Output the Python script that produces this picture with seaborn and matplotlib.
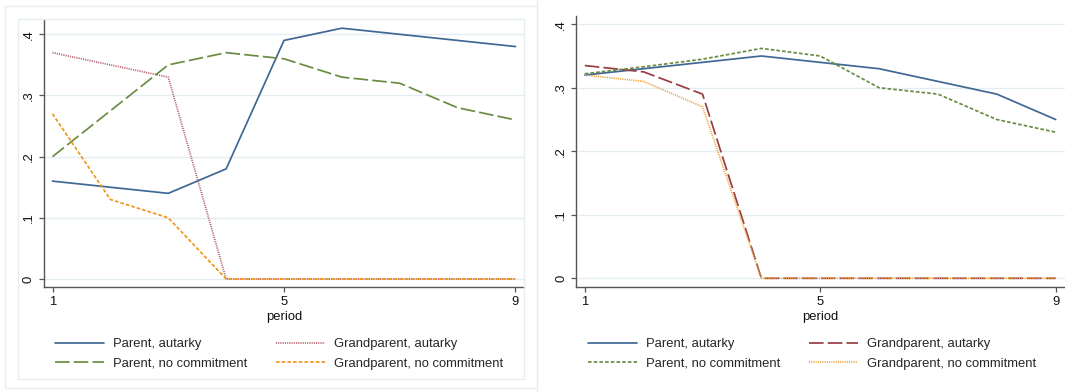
import matplotlib
matplotlib.use("Agg")
import matplotlib.pyplot as plt
import seaborn as sns
import pandas as pd
from matplotlib.lines import Line2D
from matplotlib.patches import Rectangle

# ---------------- data ----------------
periods = [1, 2, 3, 4, 5, 6, 7, 8, 9]
series_names = ["Parent, autarky", "Grandparent, autarky",
                "Parent, no commitment", "Grandparent, no commitment"]

# left panel
left_parent_autarky = [0.16, 0.15, 0.14, 0.18, 0.39, 0.41, 0.40, 0.39, 0.38]
left_grand_autarky = [0.37, 0.35, 0.33, 0.0, 0.0, 0.0, 0.0, 0.0, 0.0]
left_parent_nocommit = [0.20, 0.275, 0.35, 0.37, 0.36, 0.33, 0.32, 0.28, 0.26]
left_grand_nocommit = [0.27, 0.13, 0.10, 0.0, 0.0, 0.0, 0.0, 0.0, 0.0]

# right panel
right_parent_autarky = [0.32, 0.33, 0.34, 0.35, 0.34, 0.33, 0.31, 0.29, 0.25]
right_grand_autarky = [0.335, 0.325, 0.29, 0.0, 0.0, 0.0, 0.0, 0.0, 0.0]
right_parent_nocommit = [0.322, 0.333, 0.345, 0.362, 0.35, 0.30, 0.29, 0.25, 0.23]
right_grand_nocommit = [0.32, 0.31, 0.27, 0.0, 0.0, 0.0, 0.0, 0.0, 0.0]

x_ticks = [1, 5, 9]
y_ticks = [0, 0.1, 0.2, 0.3, 0.4]
y_tick_labels = ["0", ".1", ".2", ".3", ".4"]
x_label = "period"

# ---------------- styling ----------------
sns.set_theme(style="white")
plt.rcParams['font.family'] = ['Liberation Sans', 'DejaVu Sans']
plt.rcParams['lines.scale_dashes'] = False

W, H = 1065, 392
FS = 9.4
fig = plt.figure(figsize=(W / 100, H / 100), dpi=100)
fig.patch.set_facecolor("white")


def px_rect(x0, y0, x1, y1, **kw):
    fig.add_artist(Rectangle((x0 / W, 1 - y1 / H), (x1 - x0) / W, (y1 - y0) / H,
                             transform=fig.transFigure, fill=False, **kw))


def px_axes(x0, y0, x1, y1):
    return fig.add_axes([x0 / W, 1 - y1 / H, (x1 - x0) / W, (y1 - y0) / H])


# frames
frame_col = "#e6eef0"
px_rect(5, 6, 536.5, 388, ec=frame_col, lw=1.0)
px_rect(18, 19, 524, 379, ec=frame_col, lw=1.0)
fig.add_artist(Line2D([536.5 / W, 536.5 / W], [1 - 392 / H, 1.0],
                      transform=fig.transFigure, color=frame_col, lw=1.0))

BLUE = "#3f6894"
MAROON = "#983c45"
MAROON_DOT = "#b5606a"
GREEN = "#6a8c42"
ORANGE = "#f2961a"
ORANGE_DOT = "#f0a43a"

LONG = (10.5, 3.0)
SHORT = (2.6, 1.5)
DOT = (0.8, 0.8)
SOLID = ""

panels = [
    dict(axbox=(44, 20, 524, 287), ylim=(-0.0131, 0.4234), xlim=(0.853, 9.147),
         values=[left_parent_autarky, left_grand_autarky, left_parent_nocommit, left_grand_nocommit],
         colors=[BLUE, MAROON_DOT, GREEN, ORANGE],
         dashes=[SOLID, DOT, LONG, SHORT],
         legend_xy=(54.5, 338)),
    dict(axbox=(576.2, 16, 1064.5, 287.3), ylim=(-0.0142, 0.413), xlim=(0.854, 9.150),
         values=[right_parent_autarky, right_grand_autarky, right_parent_nocommit, right_grand_nocommit],
         colors=[BLUE, MAROON, GREEN, ORANGE_DOT],
         dashes=[SOLID, LONG, SHORT, DOT],
         legend_xy=(587.5, 338)),
]

for p in panels:
    ax = px_axes(*p["axbox"])
    ax.set_facecolor("white")
    rows = []
    for name, vals in zip(series_names, p["values"]):
        for x, v in zip(periods, vals):
            rows.append({"period": x, "value": v, "series": name})
    df = pd.DataFrame(rows)
    pal = dict(zip(series_names, p["colors"]))
    dsh = dict(zip(series_names, p["dashes"]))
    for yt in y_ticks:
        ax.axhline(yt, color="#e4edf1", lw=1.0, zorder=0)
    sns.lineplot(data=df, x="period", y="value", hue="series", style="series",
                 hue_order=series_names, style_order=series_names,
                 palette=pal, dashes=dsh, linewidth=1.25, ax=ax, legend=False,
                 zorder=3)
    ax.set_xlim(*p["xlim"])
    ax.set_ylim(*p["ylim"])
    ax.set_xticks(x_ticks)
    ax.set_xticklabels([str(t) for t in x_ticks])
    ax.set_yticks(y_ticks)
    ax.set_yticklabels(y_tick_labels, rotation=90, va="center")
    ax.set_xlabel(x_label, fontsize=FS, color="#111111", labelpad=2)
    ax.set_ylabel("")
    ax.grid(False)
    for s in ["top", "right"]:
        ax.spines[s].set_visible(False)
    for s in ["left", "bottom"]:
        ax.spines[s].set_color("#555555")
        ax.spines[s].set_linewidth(1.0)
    ax.tick_params(axis="both", which="both", direction="out", length=3.6,
                   width=0.9, color="#555555", labelsize=FS, labelcolor="#111111",
                   left=True, bottom=True)
    ax.tick_params(axis="x", pad=3)
    ax.tick_params(axis="y", pad=3)

    handles = []
    order = [0, 2, 1, 3]
    for i in order:
        handles.append(Line2D([0], [0], color=p["colors"][i], lw=1.25,
                              linestyle=(0, p["dashes"][i]) if p["dashes"][i] else "-",
                              label=series_names[i]))
    lx, ly = p["legend_xy"]
    ax.legend(handles=handles, loc="upper left",
              bbox_to_anchor=(lx / W, 1 - ly / H), bbox_transform=fig.transFigure,
              ncol=2, frameon=False, fontsize=FS, handlelength=3.8,
              handletextpad=0.66, columnspacing=2.2, labelspacing=0.58,
              borderpad=0, borderaxespad=0)

fig.savefig("out.png", dpi=100, facecolor="white")
